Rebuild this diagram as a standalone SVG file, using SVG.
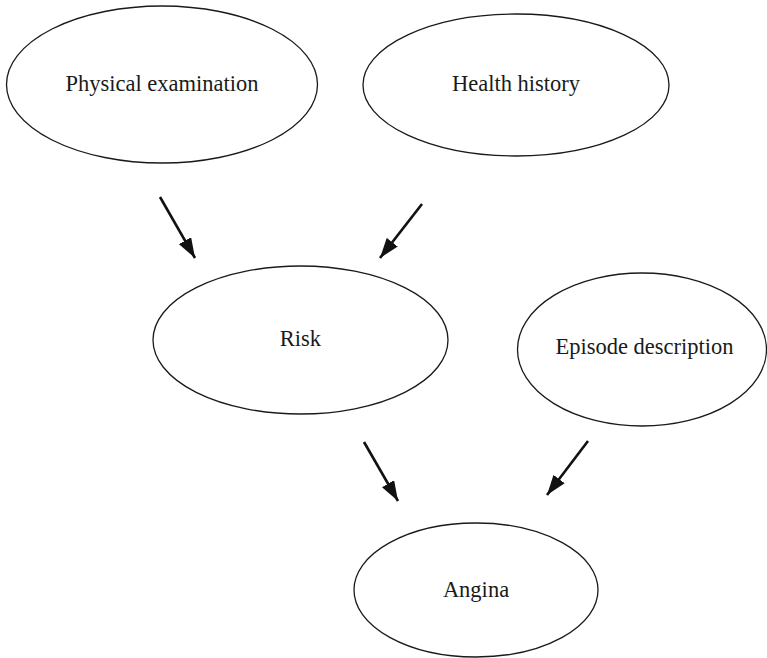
<svg xmlns="http://www.w3.org/2000/svg" width="767" height="658" viewBox="0 0 767 658">
<style>
.node ellipse{fill:#fff;stroke:#1a1a1a;stroke-width:1.3}
.node text{font-family:"Liberation Serif","Times New Roman",serif;font-size:22.5px;fill:#1a1a1a;text-anchor:middle}
.edge{stroke:#111;stroke-width:2.6;fill:none;marker-end:url(#ah)}
</style>
<defs>
<marker id="ah" markerUnits="userSpaceOnUse" markerWidth="20" markerHeight="14" refX="20" refY="7" orient="auto">
<path d="M0,0 L20,7 L0,14 z" fill="#111"/>
</marker>
</defs>
<rect width="767" height="658" fill="#fff"/>
<g id="n-physical" class="node">
<ellipse cx="162" cy="84.5" rx="155.5" ry="78.5"/>
<text x="162" y="91">Physical examination</text>
</g>
<g id="n-health" class="node">
<ellipse cx="516" cy="85" rx="153" ry="71"/>
<text x="516" y="91">Health history</text>
</g>
<g id="n-risk" class="node">
<ellipse cx="300.5" cy="340" rx="147.5" ry="74"/>
<text x="300.5" y="346">Risk</text>
</g>
<g id="n-episode" class="node">
<ellipse cx="642" cy="349.5" rx="124.5" ry="76.5"/>
<text x="644.5" y="354">Episode description</text>
</g>
<g id="n-angina" class="node">
<ellipse cx="476" cy="590" rx="122" ry="67"/>
<text x="476" y="597">Angina</text>
</g>
<g id="edges">
<line class="edge" x1="160" y1="197" x2="195" y2="258"/>
<line class="edge" x1="422" y1="204" x2="380" y2="258"/>
<line class="edge" x1="364" y1="442" x2="398" y2="501"/>
<line class="edge" x1="588" y1="441" x2="547" y2="495"/>
</g>
</svg>
